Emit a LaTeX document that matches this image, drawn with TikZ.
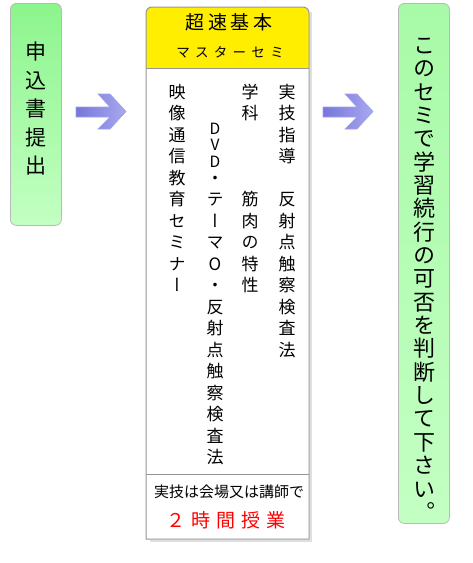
\documentclass[tikz,border=0pt]{standalone}
\usepackage{fontspec}
\newfontfamily\jp{Noto Sans CJK JP}
\newfontfamily\jpv[RawFeature=+vert]{Noto Sans CJK JP}
\definecolor{boxline}{RGB}{185,185,185}
\definecolor{midline}{RGB}{150,150,150}
\definecolor{greenA}{RGB}{140,245,140}
\definecolor{greenB}{RGB}{195,255,195}
\definecolor{greenC}{RGB}{168,250,168}
\definecolor{hdr}{RGB}{255,238,0}
\definecolor{arrL}{RGB}{118,118,218}
\definecolor{arrR}{RGB}{168,168,240}
\definecolor{arrD}{RGB}{160,160,232}
\tikzset{
  ch/.style={inner sep=0pt, text height=#1*0.88pt, text depth=#1*0.12pt, font=\fontsize{#1}{#1}\jpv},
  latstack/.style={inner sep=0pt, align=center, font=\fontsize{15.5}{16.5}\jpv},
  hch/.style={inner sep=0pt, text height=#1*0.88pt, text depth=#1*0.12pt, font=\fontsize{#1}{#1}\jp},
  bigarrow/.style={draw=arrD, line width=0.6pt, left color=arrL, right color=arrR},
}
\begin{document}
\begin{tikzpicture}[x=1pt,y=-1pt]
\useasboundingbox (0,0) rectangle (472,563);
% left box
\node[draw=boxline, line width=0.8pt, rounded corners=6pt, top color=greenA, bottom color=greenB,
      minimum width=51pt, minimum height=222pt, inner sep=0pt, anchor=north west] (apply) at (10,3) {};
\foreach \c [count=\i from 0] in {申,込,書,提,出}
  \node[ch=21] (L\i) at (36.5,{52+\i*28.5}) {\c};
% arrows
\draw[bigarrow] (76,107) -- (110,107) -- (98,94) -- (110,94) -- (126,111.5) -- (110,129) -- (98,129) -- (110,117) -- (76,117) -- cycle;
\begin{scope}[shift={(247,0)}]
\draw[bigarrow] (76,107) -- (110,107) -- (98,94) -- (110,94) -- (126,111.5) -- (110,129) -- (98,129) -- (110,117) -- (76,117) -- cycle;
\end{scope}
% middle box
\draw[gray!25, line width=1.5pt] (311,12) -- (311,541) -- (150,541);
\fill[white] (146,539) {[rounded corners=6pt] -- (146,7) -- (309,7)} -- (309,539) -- cycle;
\fill[hdr] (146,68) {[rounded corners=6pt] -- (146,7) -- (309,7)} -- (309,68) -- cycle;
\draw[midline, line width=1pt] (146,539) {[rounded corners=6pt] -- (146,7) -- (309,7)} -- (309,539) -- cycle;
\draw[midline, line width=0.8pt] (146,68) -- (309,68);
\draw[midline, line width=0.8pt] (146,474) -- (309,474);
\foreach \c [count=\i from 0] in {超,速,基,本}
  \node[hch=19] (H\i) at ({195+\i*22.7},22) {\c};
\foreach \c [count=\i from 0] in {マ,ス,タ,ー,セ,ミ}
  \node[hch=13.5] (S\i) at ({183+\i*18.8},52) {\c};
% body columns
\foreach \c [count=\i from 0] in {実,技,指,導,,反,射,点,触,察,検,査,法}
  \node[ch=17] (A\i) at (287,{92+\i*21.5}) {\c};
\foreach \c [count=\i from 0] in {学,科,,,,筋,肉,の,特,性}
  \node[ch=17] (B\i) at (250,{92+\i*21.5}) {\c};
\node[latstack] (dvd) at (215,145) {D\\V\\D};
\foreach \c [count=\i from 4] in {・,テ,ー,マ,O,・,反,射,点,触,察,検,査,法}
  \node[ch=17] (C\i) at (215,{92+\i*21.5}) {\c};
\foreach \c [count=\i from 0] in {映,像,通,信,教,育,セ,ミ,ナ,ー}
  \node[ch=17] (D\i) at (177,{92+\i*21.5}) {\c};
\node[hch=15] (note) at (229,492) {実技は会場又は講師で};
\foreach \c [count=\i from 0] in {２,時,間,授,業}
  \node[hch=19, text=red] (R\i) at ({176+\i*25},520) {\c};
% right box
\node[draw=boxline, line width=0.8pt, rounded corners=6pt, top color=greenC, bottom color=greenB,
      minimum width=51pt, minimum height=520pt, inner sep=0pt, anchor=north west] (judge) at (398,3) {};
\foreach \c [count=\i from 0] in {こ,の,セ,ミ,で,学,習,続,行,の,可,否,を,判,断,し,て,下,さ,い,。}
  \node[ch=22] (J\i) at (424,{45+\i*23.35}) {\c};
\end{tikzpicture}
\end{document}
